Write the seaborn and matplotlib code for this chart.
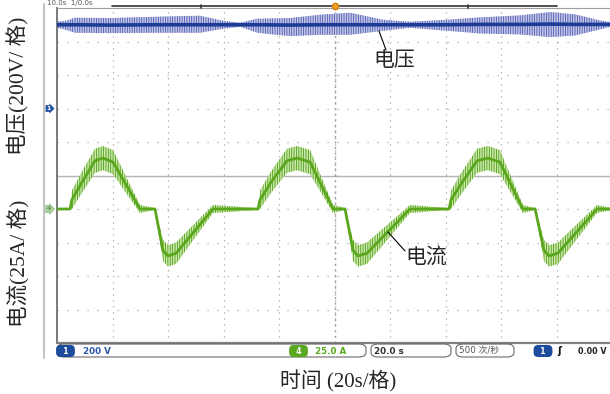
import matplotlib
matplotlib.use('Agg')
import matplotlib.pyplot as plt
from matplotlib.patches import FancyBboxPatch
from matplotlib.lines import Line2D
import numpy as np
import pandas as pd
import seaborn as sns

# ---- data ----
# channel 4: current, 25 A/div, ground marker 1 div below centre
t_cur = [0.0, 4.7, 5.4, 9.0, 13.7, 16.6, 20.2, 29.9, 35.3, 38.2, 40.0, 42.9, 56.2,
         72.4, 73.2, 77.1, 82.9, 86.5, 91.2, 99.5, 103.8, 106.7, 108.5, 111.7, 127.2,
         141.3, 142.0, 146.0, 151.4, 155.3, 159.6, 167.9, 172.3, 175.5, 177.3, 180.5, 194.6, 200.0]
i_cur = [0, 0, 7, 20, 36, 38, 35, 0, 0, -31, -35, -33, 0,
         0, 7, 20, 36, 38, 35, 0, 0, -31, -35, -33, 0,
         0, 7, 20, 36, 38, 35, 0, 0, -31, -35, -33, 0, 0]
i_ripple = [0.6, 0.6, 7, 8, 9, 9, 9, 3, 0.6, 8, 8, 8, 3,
            0.6, 7, 8, 9, 9, 9, 3, 0.6, 8, 8, 8, 3,
            0.6, 7, 8, 9, 9, 9, 3, 0.6, 8, 8, 8, 3, 0.6]

# channel 1: DC bus voltage, 200 V/div, ground marker 2 div above centre
t_volt = [0.0, 3.2, 6.5, 19.1, 36.0, 51.5, 59.8, 66.0, 72.1, 84.0, 94.8,
          105.6, 117.5, 127.2, 140.5, 152.4, 166.9, 177.7, 186.7, 195.7, 200.0]
v_level = [500, 500, 500, 498, 500, 500, 500, 500, 500, 498, 500,
           500, 500, 500, 500, 502, 502, 504, 502, 502, 502]
v_up = [18, 24, 42, 42, 48, 54, 24, 12, 36, 42, 60, 72, 30, 18, 30, 42, 54, 72, 60, 24, 12]
v_dn = [18, 30, 48, 48, 48, 48, 24, 12, 48, 66, 60, 60, 36, 18, 36, 54, 60, 78, 66, 30, 12]

volt_per_div, volt_offset = 200, 2
amp_per_div, amp_offset = 25, -1

cur = pd.DataFrame({'t': t_cur, 'i': i_cur, 'r': i_ripple})
cur['div'] = amp_offset + cur['i'] / amp_per_div
cur['lo'] = amp_offset + (cur['i'] - cur['r']) / amp_per_div
cur['hi'] = amp_offset + (cur['i'] + cur['r']) / amp_per_div

volt = pd.DataFrame({'t': t_volt, 'v': v_level, 'up': v_up, 'dn': v_dn})
volt['div'] = volt_offset + volt['v'] / volt_per_div
volt['lo'] = volt_offset + (volt['v'] - volt['dn']) / volt_per_div
volt['hi'] = volt_offset + (volt['v'] + volt['up']) / volt_per_div

sns.set_theme(style='white')
plt.rcParams['font.family'] = ['Liberation Serif', 'Noto Sans CJK SC']
plt.rcParams['hatch.linewidth'] = 0.6
cjk = ['Liberation Serif', 'Noto Sans CJK SC']
mono = ['DejaVu Sans', 'Noto Sans CJK SC']

W, H = 610, 394
def fx(x):
    return x / W
def fy(y):
    return 1 - y / H

fig = plt.figure(figsize=(W / 100, H / 100), dpi=100)
ax = fig.add_axes([fx(57), fy(343), 555 / W, 335 / H])
ax.set_xlim(0, 200)
ax.set_ylim(-5, 5)
ax.set_xticks(np.arange(0, 201, 20))
ax.set_yticks(np.arange(-5, 6, 1))
ax.tick_params(length=0, labelbottom=False, labelleft=False)
ax.grid(axis='x', color='#a8a8a8', lw=0.9, ls=(0, (1, 3.8)))
ax.grid(axis='y', color='#a8a8a8', lw=0.9, ls=(0, (1, 7)))
ax.axhline(0, color='#b4b4b4', lw=1.0, zorder=1)
ax.axvline(100, color='#a0a0a0', lw=1.0, ls=(0, (1.5, 2.5)), zorder=1)
ax.spines['right'].set_visible(False)
ax.spines['left'].set_color('#707070')
ax.spines['left'].set_linewidth(1.3)
ax.spines['bottom'].set_color('#808080')
ax.spines['bottom'].set_linewidth(1.6)
ax.spines['top'].set_color('#a0a0a0')
ax.spines['top'].set_linewidth(0.8)

# voltage trace: noise band + main trace
ax.fill_between(volt['t'], volt['lo'], volt['hi'], facecolor='#c3c7e8', edgecolor='#4f5ab0',
                hatch='|||||||', linewidth=0, zorder=2)
sns.lineplot(data=volt, x='t', y='div', ax=ax, color='#1c3c96', lw=2.6, zorder=3)

# current trace: ripple band + main trace
ax.fill_between(cur['t'], cur['lo'], cur['hi'], facecolor='#cdeaa9', edgecolor='#4d9a1c',
                hatch='|||||||', linewidth=0, zorder=2)
sns.lineplot(data=cur, x='t', y='div', ax=ax, color='#5aa61c', lw=2.0, zorder=3)
ax.set_xlabel('')
ax.set_ylabel('')

# channel ground markers on the left edge
ytr = ax.get_yaxis_transform()
ax.text(-0.015, volt_offset, '1', transform=ytr, ha='center', va='center', fontsize=4.5,
        color='white', family='DejaVu Sans', fontweight='bold', clip_on=False,
        bbox=dict(boxstyle='rarrow,pad=0.15', fc='#2454a4', ec='none'))
ax.text(-0.015, amp_offset, '4', transform=ytr, ha='center', va='center', fontsize=4.5,
        color='#6a8a5a', family='DejaVu Sans', fontweight='bold', clip_on=False,
        bbox=dict(boxstyle='rarrow,pad=0.15', fc='#a8d29a', ec='#8ab87a', lw=0.5))

# left grey rail and top horizontal-position bar
fig.add_artist(Line2D([fx(44), fx(44)], [fy(4), fy(358)], color='#c4c4c4', lw=1.5))
fig.add_artist(Line2D([fx(112), fx(557)], [fy(6), fy(6)], color='#333333', lw=1.2))
for xp in [201, 468]:
    fig.add_artist(Line2D([fx(xp), fx(xp)], [fy(5), fy(8)], color='#333333', lw=1.2))
fig.add_artist(Line2D([fx(335)], [fy(6)], marker='o', ms=4.5, color='#f0a020', mec='#d08010'))
fig.text(fx(47), fy(3), '10.0s  1/0.0s', fontsize=5, color='#555555', family='DejaVu Sans',
         va='center', ha='left')

# status bar
for x0, x1 in [(57, 366), (371, 451), (456, 514)]:
    fig.add_artist(FancyBboxPatch((fx(x0), fy(357)), fx(x1) - fx(x0), fy(344) - fy(357),
                                  boxstyle='round,pad=0,rounding_size=0.012',
                                  transform=fig.transFigure, fc='none', ec='#6a6a6a', lw=0.8))
ys = fy(351)
def pill(xc, label, fc):
    fig.text(fx(xc), ys, label, ha='center', va='center', fontsize=5.5, color='white',
             family='DejaVu Sans', fontweight='bold',
             bbox=dict(boxstyle='round,pad=0.2,rounding_size=0.6', fc=fc, ec='none'))
pill(65.5, '  1  ', '#1d4c9c')
pill(298.5, '  4  ', '#5aa820')
pill(543, '  1  ', '#1d4c9c')
fig.text(fx(83), ys, '200 V', fontsize=6.3, color='#2a56a8', family=mono, fontweight='bold', va='center')
fig.text(fx(315), ys, '25.0 A', fontsize=6.3, color='#5aaa1e', family=mono, fontweight='bold', va='center')
fig.text(fx(374), ys, '20.0 s', fontsize=6.3, color='#333333', family=mono, fontweight='bold', va='center')
fig.text(fx(459), ys, '500 次/秒', fontsize=6.3, color='#555555', family=mono, va='center')
fig.text(fx(557), ys, 'ʃ', fontsize=7, color='#111111', family='DejaVu Sans', fontweight='bold', va='center')
fig.text(fx(607), ys, '0.00 V', fontsize=5.8, color='#222222', family=mono, fontweight='bold',
         va='center', ha='right')

# axis titles
fig.text(fx(18), fy(86), '电压(200V/ 格)', rotation=90, ha='center', va='center', fontsize=15.5, family=cjk)
fig.text(fx(18), fy(263), '电流(25A/ 格)', rotation=90, ha='center', va='center', fontsize=15.5, family=cjk)
fig.text(fx(338), fy(381), '时间 (20s/格)', ha='center', va='center', fontsize=15, family=cjk)

# trace labels with leader lines
fig.text(fx(394), fy(61), '电压', ha='center', va='center', fontsize=15, family=cjk)
fig.add_artist(Line2D([fx(379), fx(386)], [fy(31), fy(50)], color='black', lw=0.8))
fig.text(fx(426), fy(259), '电流', ha='center', va='center', fontsize=15, family=cjk)
fig.add_artist(Line2D([fx(388), fx(405)], [fy(232), fy(251)], color='black', lw=0.8))

fig.savefig('out.png', dpi=100)
